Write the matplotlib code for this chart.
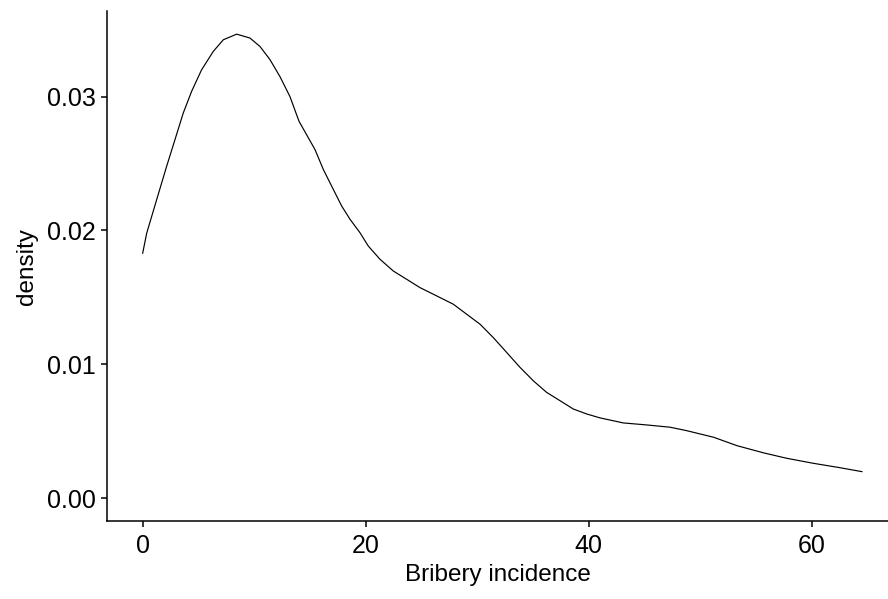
import numpy as np
import matplotlib
matplotlib.use("Agg")
import matplotlib.pyplot as plt

plt.rcParams['font.family'] = ['Liberation Sans', 'DejaVu Sans']

# density curve
bribery = [0.0, 0.36, 1.26, 2.15, 2.9, 3.64, 4.39, 5.28, 6.33, 7.23, 8.43,
           9.62, 10.52, 11.42, 12.31, 13.21, 14.02, 15.45, 16.2, 17.1, 17.85,
           18.6, 19.49, 20.23, 21.28, 22.48, 23.68, 24.87, 26.37, 27.86,
           29.06, 30.25, 31.44, 32.64, 33.84, 35.03, 36.23, 37.43, 38.62,
           39.82, 41.0, 43.1, 45.2, 47.3, 48.8, 51.2, 53.3, 55.7, 57.75,
           60.1, 62.5, 64.5]
density = [0.0183, 0.0198, 0.02232, 0.0248, 0.0268, 0.02878, 0.0304, 0.0320,
           0.03338, 0.03425, 0.03467, 0.03438, 0.03375, 0.03276, 0.0315,
           0.0300, 0.02816, 0.02605, 0.02456, 0.02306, 0.02182, 0.02083,
           0.01983, 0.01884, 0.01785, 0.01697, 0.01635, 0.01573, 0.01511,
           0.01449, 0.01374, 0.0130, 0.0120, 0.01089, 0.00977, 0.00877,
           0.0079, 0.00728, 0.00666, 0.00629, 0.00600, 0.00562, 0.00547,
           0.0053, 0.00504, 0.00455, 0.00392, 0.00338, 0.00298, 0.00261,
           0.00228, 0.00198]

xticks = [0, 20, 40, 60]
yticks = [0.00, 0.01, 0.02, 0.03]

fig = plt.figure(figsize=(8.88, 5.99), dpi=100)
ax = fig.add_axes([107/888, 1 - 521.3/599, 1 - 107/888, (521.3 - 11)/599])

ax.plot(bribery, density, color='black', lw=0.85)

ax.set_xlim(-3.2, 66.84)
ax.set_ylim(-0.00173, 0.0364)
ax.set_xticks(xticks)
ax.set_yticks(yticks)
ax.set_yticklabels(['%.2f' % v for v in yticks])

for s in ['top', 'right']:
    ax.spines[s].set_visible(False)
for s in ['left', 'bottom']:
    ax.spines[s].set_linewidth(1.1)
    ax.spines[s].set_color('black')

ax.tick_params(axis='both', length=4.3, width=1.1, colors='black',
               labelsize=18)
ax.tick_params(axis='x', pad=5)
ax.tick_params(axis='y', pad=4)

ax.set_xlabel('Bribery incidence', fontsize=17.5, labelpad=4)
ax.set_ylabel('density', fontsize=17.5, labelpad=6)

fig.savefig('out.png', dpi=100)
